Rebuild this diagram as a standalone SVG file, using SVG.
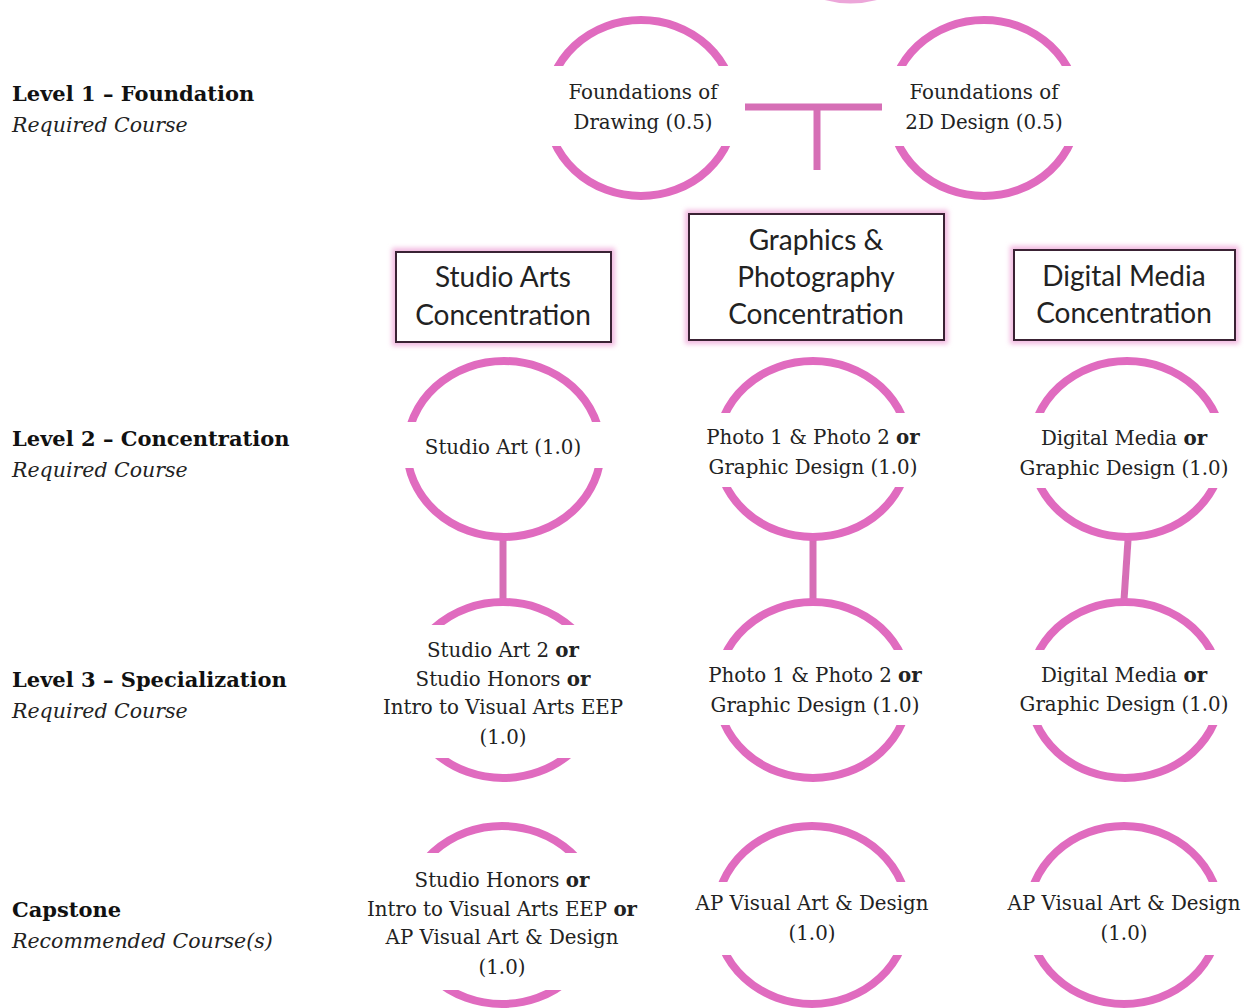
<svg xmlns="http://www.w3.org/2000/svg" width="1244" height="1008" viewBox="0 0 1244 1008">
<defs>
<style>
.ring{fill:none;stroke:#E06BBF;stroke-width:8}
.band{fill:#fff;stroke:none}
.conn{stroke:#D66FB6;stroke-width:7;fill:none;stroke-linecap:butt}
.t{font-family:"DejaVu Serif","Liberation Serif",serif;font-size:19.8px;fill:#222;text-anchor:middle}
.b{font-weight:bold}
.lvl{font-family:"DejaVu Serif","Liberation Serif",serif;font-size:21px;fill:#111}
.lvlb{font-weight:bold}
.lvli{font-style:italic;fill:#222;font-size:20.5px}
.box{fill:#fff;stroke:#3A2234;stroke-width:2}
.glow{fill:none;stroke:#F2B8E0;stroke-width:8;filter:url(#blur)}
.bt{font-family:Lato,"Open Sans","Liberation Sans",sans-serif;font-size:28px;fill:#222;text-anchor:middle}
</style>
<filter id="blur" x="-10%" y="-10%" width="120%" height="120%"><feGaussianBlur stdDeviation="2.5"/></filter>
</defs>
<rect width="1244" height="1008" fill="#fff"/>

<g id="top-partial"><path class="ring" d="M822,-5 Q850,4 880,-5" stroke-opacity="0.6"/></g>

<g id="labels">
<text class="lvl lvlb" x="12" y="101">Level 1 – Foundation</text>
<text class="lvl lvli" x="12" y="132">Required Course</text>
<text class="lvl lvlb" x="12" y="446">Level 2 – Concentration</text>
<text class="lvl lvli" x="12" y="477">Required Course</text>
<text class="lvl lvlb" x="12" y="687">Level 3 – Specialization</text>
<text class="lvl lvli" x="12" y="718">Required Course</text>
<text class="lvl lvlb" x="12" y="917">Capstone</text>
<text class="lvl lvli" x="12" y="948">Recommended Course(s)</text>
</g>

<g id="connectors">
<line class="conn" x1="745" y1="107" x2="882" y2="107"/>
<line class="conn" x1="817" y1="107" x2="817" y2="170"/>
<line class="conn" x1="503" y1="540" x2="503" y2="600"/>
<line class="conn" x1="813" y1="540" x2="813" y2="600"/>
<line class="conn" x1="1128" y1="540" x2="1124" y2="600"/>
</g>

<g id="found-drawing">
<ellipse class="ring" cx="641" cy="108" rx="94" ry="88"/>
<rect class="band" x="540" y="66" width="202" height="80"/>
<text class="t" x="643" y="99">Foundations of</text>
<text class="t" x="643" y="129">Drawing (0.5)</text>
</g>
<g id="found-2d">
<ellipse class="ring" cx="984" cy="108" rx="94" ry="88"/>
<rect class="band" x="883" y="66" width="202" height="80"/>
<text class="t" x="984" y="99">Foundations of</text>
<text class="t" x="984" y="129">2D Design (0.5)</text>
</g>

<g id="box-studio">
<rect class="glow" x="396" y="252" width="215" height="90"/>
<rect class="box" x="396" y="252" width="215" height="90"/>
<text class="bt" x="503" y="287">Studio Arts</text>
<text class="bt" x="503" y="325">Concentration</text>
</g>
<g id="box-graphics">
<rect class="glow" x="689" y="214" width="255" height="126"/>
<rect class="box" x="689" y="214" width="255" height="126"/>
<text class="bt" x="816" y="250">Graphics &amp;</text>
<text class="bt" x="816" y="287">Photography</text>
<text class="bt" x="816" y="324">Concentration</text>
</g>
<g id="box-digital">
<rect class="glow" x="1014" y="250" width="221" height="90"/>
<rect class="box" x="1014" y="250" width="221" height="90"/>
<text class="bt" x="1124" y="286">Digital Media</text>
<text class="bt" x="1124" y="323">Concentration</text>
</g>

<g id="l2-studio">
<ellipse class="ring" cx="504" cy="449" rx="97" ry="88"/>
<rect class="band" x="400" y="422" width="208" height="46"/>
<text class="t" x="503" y="454">Studio Art (1.0)</text>
</g>
<g id="l2-photo">
<ellipse class="ring" cx="813" cy="449" rx="96" ry="88"/>
<rect class="band" x="700" y="413" width="226" height="74"/>
<text class="t" x="813" y="444">Photo 1 &amp; Photo 2 <tspan class="b">or</tspan></text>
<text class="t" x="813" y="474">Graphic Design (1.0)</text>
</g>
<g id="l2-digital">
<ellipse class="ring" cx="1127" cy="449" rx="96" ry="88"/>
<rect class="band" x="1012" y="413" width="232" height="75"/>
<text class="t" x="1124" y="445">Digital Media <tspan class="b">or</tspan></text>
<text class="t" x="1124" y="475">Graphic Design (1.0)</text>
</g>

<g id="l3-studio">
<ellipse class="ring" cx="503" cy="690" rx="97" ry="88"/>
<rect class="band" x="376" y="625" width="256" height="133"/>
<text class="t" x="503" y="657">Studio Art 2 <tspan class="b">or</tspan></text>
<text class="t" x="503" y="686">Studio Honors <tspan class="b">or</tspan></text>
<text class="t" x="503" y="714">Intro to Visual Arts EEP</text>
<text class="t" x="503" y="744">(1.0)</text>
</g>
<g id="l3-photo">
<ellipse class="ring" cx="813" cy="690" rx="96" ry="88"/>
<rect class="band" x="700" y="650" width="226" height="75"/>
<text class="t" x="815" y="682">Photo 1 &amp; Photo 2 <tspan class="b">or</tspan></text>
<text class="t" x="815" y="712">Graphic Design (1.0)</text>
</g>
<g id="l3-digital">
<ellipse class="ring" cx="1125" cy="690" rx="96" ry="88"/>
<rect class="band" x="1010" y="650" width="234" height="75"/>
<text class="t" x="1124" y="682">Digital Media <tspan class="b">or</tspan></text>
<text class="t" x="1124" y="711">Graphic Design (1.0)</text>
</g>

<g id="cap-studio">
<ellipse class="ring" cx="502" cy="915" rx="97" ry="89"/>
<rect class="band" x="355" y="853" width="300" height="137"/>
<text class="t" x="502" y="887">Studio Honors <tspan class="b">or</tspan></text>
<text class="t" x="502" y="916">Intro to Visual Arts EEP <tspan class="b">or</tspan></text>
<text class="t" x="502" y="944">AP Visual Art &amp; Design</text>
<text class="t" x="502" y="974">(1.0)</text>
</g>
<g id="cap-photo">
<ellipse class="ring" cx="812" cy="915" rx="96" ry="89"/>
<rect class="band" x="690" y="882" width="245" height="73"/>
<text class="t" x="812" y="910">AP Visual Art &amp; Design</text>
<text class="t" x="812" y="940">(1.0)</text>
</g>
<g id="cap-digital">
<ellipse class="ring" cx="1124" cy="915" rx="96" ry="89"/>
<rect class="band" x="998" y="882" width="246" height="73"/>
<text class="t" x="1124" y="910">AP Visual Art &amp; Design</text>
<text class="t" x="1124" y="940">(1.0)</text>
</g>
</svg>
